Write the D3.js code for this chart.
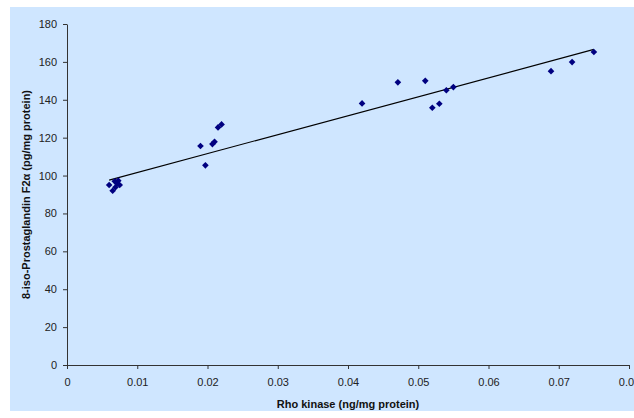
<!DOCTYPE html>
<html>
<head>
<meta charset="utf-8">
<script src="https://cdn.jsdelivr.net/npm/d3@7"></script>
<style>
  body { margin: 0; background: #fff; }
  svg { display: block; font-family: "Liberation Sans", Arial, sans-serif; }
</style>
</head>
<body>
<div id="chart"></div>
<script>
// Rho kinase (ng/mg protein) vs 8-iso-Prostaglandin F2a (pg/mg protein)
const rhoKinase = [0.0060, 0.0065, 0.0068, 0.0069, 0.0071, 0.0073, 0.0075,
    0.0190, 0.0197, 0.0207, 0.0210, 0.0215, 0.0220,
    0.0420, 0.0471, 0.0510, 0.0520, 0.0530, 0.0540, 0.0550,
    0.0689, 0.0719, 0.0750];
const prostaglandin = [95.0, 92.0, 97.0, 93.8, 95.9, 97.3, 95.0,
    115.6, 105.4, 116.6, 117.8, 125.4, 127.0,
    138.1, 149.2, 150.0, 135.8, 137.9, 145.0, 146.7,
    155.1, 159.9, 165.2];

// linear trendline end points
const trendX = [0.006, 0.075];
const trendY = [97.6, 166.6];

const xTicks = [0, 0.01, 0.02, 0.03, 0.04, 0.05, 0.06, 0.07, 0.08];
const yTicks = [0, 20, 40, 60, 80, 100, 120, 140, 160, 180];

const W = 634, H = 418;
const margin = { top: 24, right: 5, bottom: 53, left: 67 };
const width = W - margin.left - margin.right,
    height = H - margin.top - margin.bottom;

const root = d3.select("#chart").append("svg")
    .attr("width", W)
    .attr("height", H);

// chart area background
root.append("rect")
    .attr("x", 10)
    .attr("y", 7)
    .attr("width", W - 10)
    .attr("height", H - 14)
    .attr("fill", "#cfe6ff");

const svg = root.append("g")
    .attr("transform", "translate(" + margin.left + "," + margin.top + ")");

const x = d3.scaleLinear().domain([0, 0.08]).range([0, 562]);
const y = d3.scaleLinear().domain([0, 180]).range([height, 0]);

const xAxis = d3.axisBottom(x)
    .tickValues(xTicks)
    .tickFormat(d => d === 0 ? "0" : d3.format(".2f")(d))
    .tickSizeInner(4)
    .tickSizeOuter(0)
    .tickPadding(9);

const yAxis = d3.axisLeft(y)
    .tickValues(yTicks)
    .tickSizeInner(4)
    .tickSizeOuter(0)
    .tickPadding(6);

svg.append("g")
    .attr("class", "x axis")
    .attr("transform", "translate(0," + height + ")")
    .call(xAxis);

svg.append("g")
    .attr("class", "y axis")
    .call(yAxis);

svg.selectAll(".axis path, .axis line")
    .attr("stroke", "#333")
    .attr("stroke-width", 1);
svg.selectAll(".axis text")
    .attr("fill", "#222")
    .style("font-size", "11px")
    .style("font-family", "Liberation Sans, Arial, sans-serif");

// trendline
svg.append("line")
    .attr("x1", x(trendX[0]))
    .attr("y1", y(trendY[0]))
    .attr("x2", x(trendX[1]))
    .attr("y2", y(trendY[1]))
    .attr("stroke", "#000")
    .attr("stroke-width", 1.2);

// diamond markers
const marker = d3.symbol().type(d3.symbolSquare).size(22);
svg.selectAll(".dot")
    .data(rhoKinase.map((v, i) => ({ x: v, y: prostaglandin[i] })))
    .enter().append("path")
    .attr("class", "dot")
    .attr("d", marker)
    .attr("transform", d => "translate(" + x(d.x) + "," + y(d.y) + ") rotate(45)")
    .attr("fill", "#000080");

// axis titles
svg.append("text")
    .attr("x", x(0.04))
    .attr("y", height + 43)
    .attr("text-anchor", "middle")
    .style("font-size", "11px")
    .style("font-weight", "bold")
    .attr("fill", "#111")
    .text("Rho kinase (ng/mg protein)");

svg.append("text")
    .attr("transform", "translate(" + (-37) + "," + (height / 2) + ") rotate(-90)")
    .attr("text-anchor", "middle")
    .style("font-size", "11px")
    .style("font-weight", "bold")
    .attr("fill", "#111")
    .text("8-iso-Prostaglandin F2α (pg/mg protein)");
</script>
</body>
</html>
